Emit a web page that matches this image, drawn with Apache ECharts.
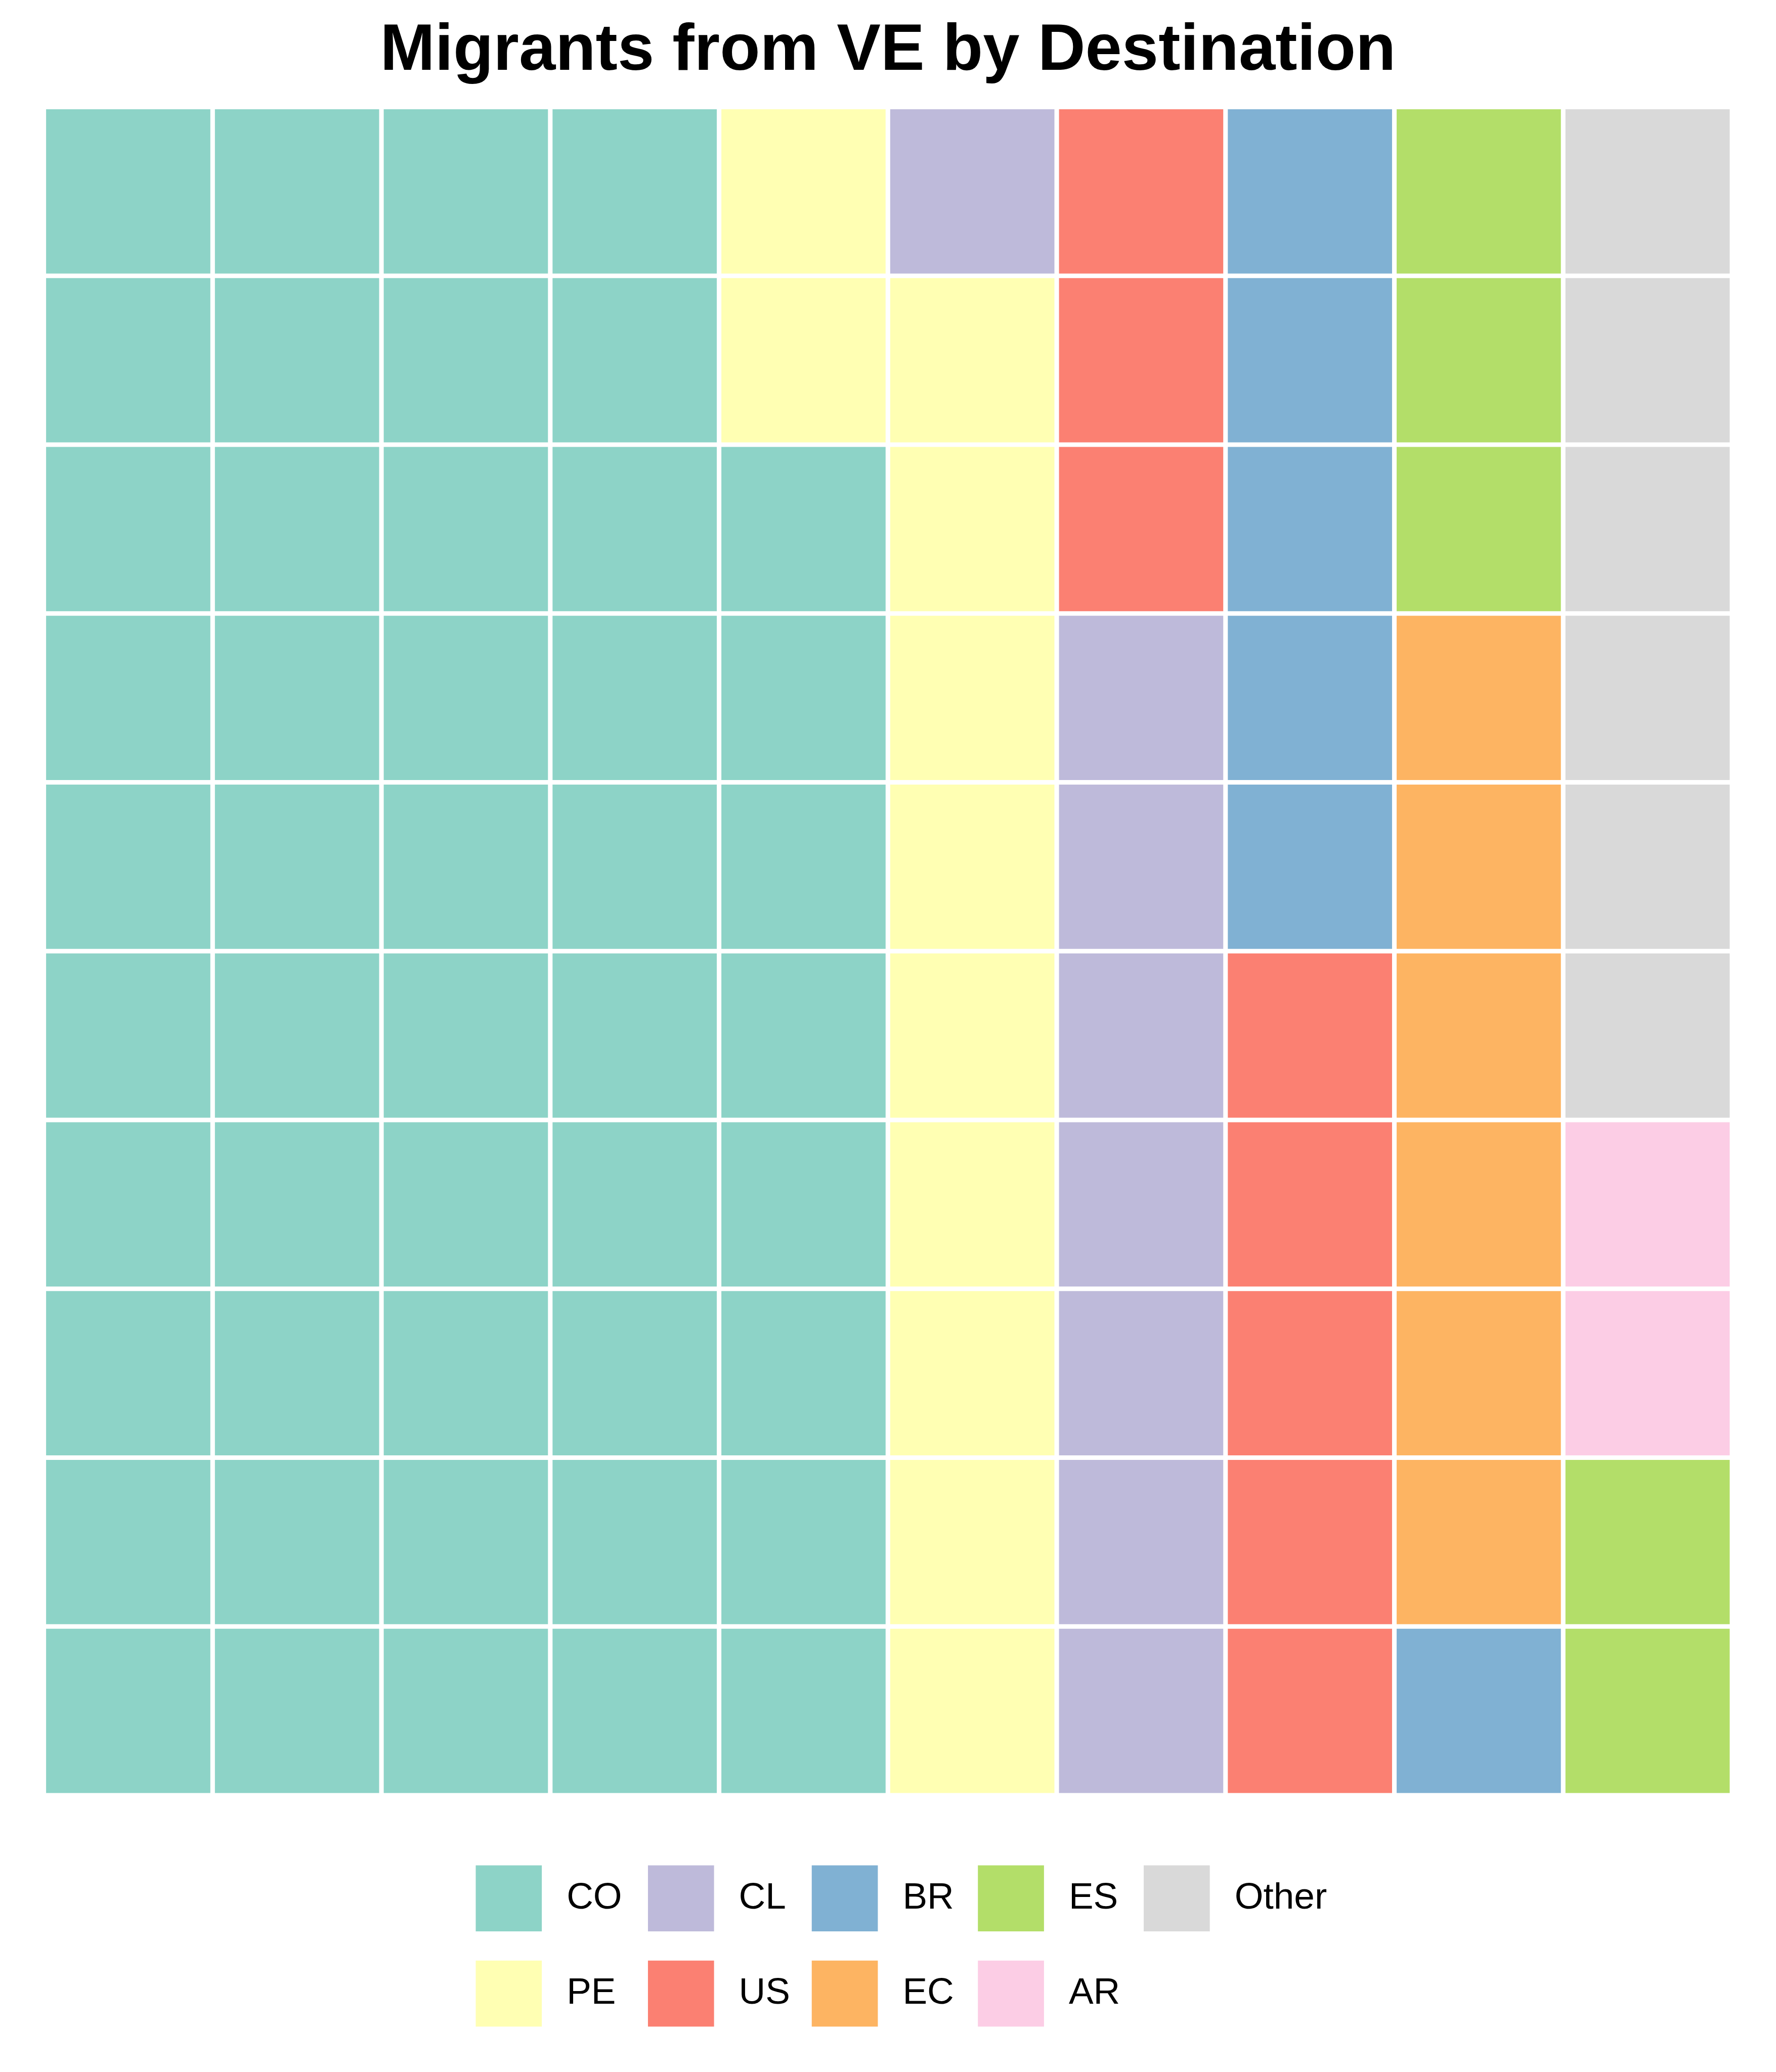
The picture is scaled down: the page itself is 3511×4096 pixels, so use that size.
<!DOCTYPE html>
<html>
<head>
<meta charset="utf-8">
<script src="https://cdn.jsdelivr.net/npm/echarts@6/dist/echarts.min.js"></script>
<style>
html,body{margin:0;padding:0;background:#fff;}
#chart{width:3511px;height:4096px;}
</style>
</head>
<body>
<div id="chart"></div>
<script>
// ---- data ----
const countries = ['CO', 'PE', 'CL', 'US', 'BR', 'EC', 'ES', 'AR', 'Other'];
const counts = [48, 11, 8, 8, 6, 6, 5, 2, 6];
const colors = ['#8DD3C7', '#FFFFB3', '#BEBADA', '#FB8072', '#80B1D3', '#FDB462', '#B3DE69', '#FCCDE5', '#D9D9D9'];
const nCols = 10;
const nRows = 10;
const titleText = 'Migrants from VE by Destination';
const legendColumns = [['CO', 'PE'], ['CL', 'US'], ['BR', 'EC'], ['ES', 'AR'], ['Other']];

// ---- layout (0.975 scale) ----
const S = 0.975;
const GAP = 9.3 * S;
const gridLeft = 88.8 * S, gridTop = 217 * S;
const gridW = 3423 * S, gridH = 3423 * S;
const legendLefts = [964.6, 1313.8, 1645.9, 1982.8, 2319].map(v => v * S);
const legendTop = 3782 * S;
const swatch = 134 * S;
const rowGap = 59 * S;

const xCats = Array.from({length: nCols}, (_, i) => String(i));
const yCats = Array.from({length: nRows}, (_, i) => String(i));

let k = 0;
const series = countries.map((name, ci) => {
  const data = [];
  for (let j = 0; j < counts[ci]; j++, k++) {
    data.push([Math.floor(k / nRows), k % nRows]);
  }
  return {
    type: 'custom',
    name: name,
    coordinateSystem: 'cartesian2d',
    itemStyle: {color: colors[ci]},
    data: data,
    renderItem: function (params, api) {
      const c = api.coord([api.value(0), api.value(1)]);
      const s = api.size([1, 1]);
      return {
        type: 'rect',
        shape: {x: c[0] - s[0] / 2 + GAP / 2, y: c[1] - s[1] / 2 + GAP / 2, width: s[0] - GAP, height: s[1] - GAP},
        style: {fill: colors[ci]}
      };
    }
  };
});

const legends = legendColumns.map((col, i) => ({
  orient: 'vertical',
  left: legendLefts[i],
  top: legendTop,
  padding: 0,
  itemWidth: swatch,
  itemHeight: swatch,
  itemGap: rowGap,
  icon: 'rect',
  selectedMode: false,
  data: col,
  textStyle: {fontFamily: 'Liberation Sans', fontSize: 73, color: '#000', padding: [0, 0, 0, 44]}
}));

const chart = echarts.init(document.getElementById('chart'), null, {renderer: 'canvas'});
chart.setOption({
  backgroundColor: '#fff',
  animation: false,
  title: {
    text: titleText,
    left: 'center',
    top: 32,
    textStyle: {fontFamily: 'Liberation Sans', fontWeight: 'bold', fontSize: 130, color: '#000'}
  },
  legend: legends,
  grid: {left: gridLeft, top: gridTop, width: gridW, height: gridH, containLabel: false},
  xAxis: {type: 'category', data: xCats, show: false, boundaryGap: true},
  yAxis: {type: 'category', data: yCats, show: false, boundaryGap: true},
  series: series
});
</script>
</body>
</html>
